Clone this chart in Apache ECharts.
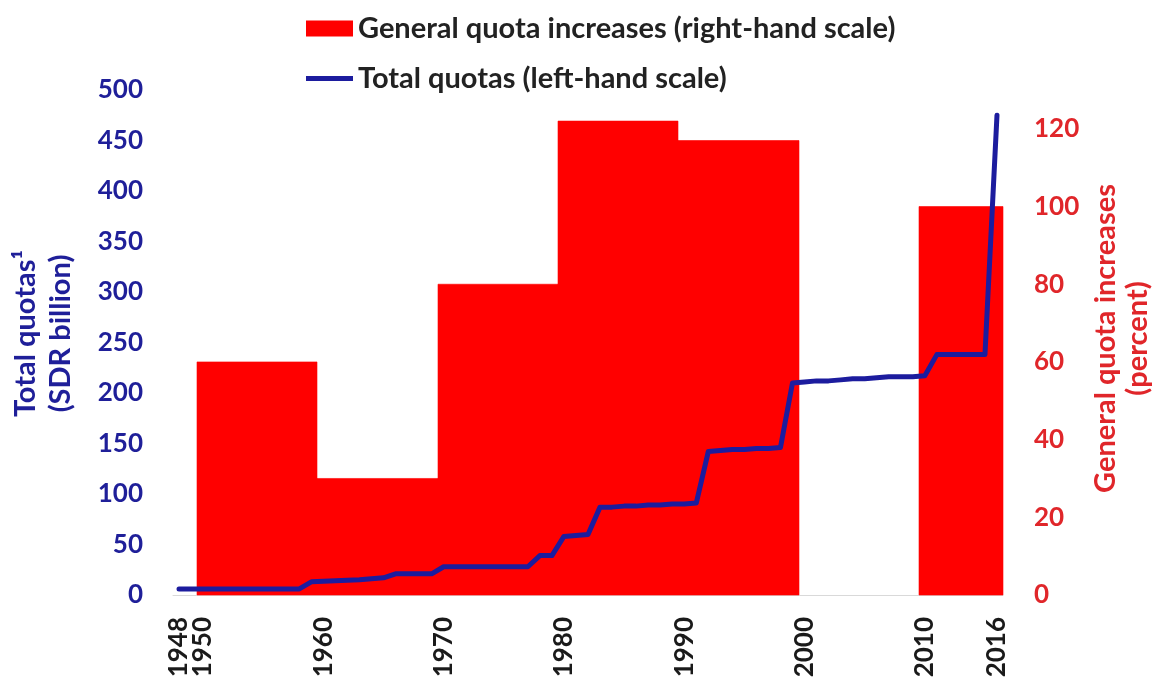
<!DOCTYPE html>
<html>
<head>
<meta charset="utf-8">
<script src="https://cdn.jsdelivr.net/npm/echarts@6/dist/echarts.min.js"></script>
<style>
html,body{margin:0;padding:0;background:#fff;}
#chart{width:1157px;height:681px;}
</style>
</head>
<body>
<div id="chart"></div>
<script>
// Year ticks shown on the x axis (first one drawn on its own axis so it is not dropped as overlapping)
const firstYearTick = [1948];
const yearTicks = [1950, 1960, 1970, 1980, 1990, 2000, 2010, 2016];

// General quota increases (percent): [first year, last year, increase]
const quotaIncreasePeriods = [
  [1950, 1959, 60],
  [1960, 1969, 30],
  [1970, 1979, 80],
  [1980, 1989, 122],
  [1990, 1999, 117],
  [2010, 2016, 100]
];

// Total quotas (SDR billion), annual
const quotaYears = [1948,1949,1950,1951,1952,1953,1954,1955,1956,1957,1958,1959,1960,1961,1962,1963,1964,1965,1966,1967,1968,1969,1970,1971,1972,1973,1974,1975,1976,1977,1978,1979,1980,1981,1982,1983,1984,1985,1986,1987,1988,1989,1990,1991,1992,1993,1994,1995,1996,1997,1998,1999,2000,2001,2002,2003,2004,2005,2006,2007,2008,2009,2010,2011,2012,2013,2014,2015,2016];
const totalQuotas = [6,6,6,6,6,6,6,6,6,6,6,13,13.5,14,14.5,15,16,17,21,21,21,21,28,28,28,28,28,28,28,28,39,39,58,59,60,87,87,88,88,89,89,90,90,91,142,143,144,144,145,145,146,210,211,212,212,213,214,214,215,216,216,216,217,238,238,238,238,238,475];

const leftTicks = [0,50,100,150,200,250,300,350,400,450,500];
const rightTicks = [0,20,40,60,80,100,120];

const FONT = 'Lato';
const BLUE = '#1f1f99';
const RED = '#e0262a';

const chart = echarts.init(document.getElementById('chart'), null, {renderer: 'canvas'});

const barName = 'General quota increases (right-hand scale)';
const lineName = 'Total quotas (left-hand scale)';

const xLabelStyle = {
  rotate: 90,
  margin: 22,
  fontFamily: FONT, fontWeight: 'bold', fontSize: 26, color: '#1a1a1a',
  formatter: v => String(v)
};

chart.setOption({
  animation: false,
  backgroundColor: '#ffffff',
  legend: {
    orient: 'vertical',
    left: 306,
    top: 14,
    padding: 0,
    itemWidth: 47,
    itemHeight: 16,
    itemGap: 21,
    symbolKeepAspect: true,
    textStyle: {fontFamily: FONT, fontWeight: 'bold', fontSize: 29, color: '#222'},
    data: [
      {name: barName, icon: 'rect'},
      {name: lineName, icon: 'path://M0,0H47V5H0Z'}
    ]
  },
  grid: {left: 173, right: 154, top: 90, bottom: 86, containLabel: false, outerBoundsMode: 'none'},
  xAxis: [
    {
      type: 'value',
      min: 1947.5,
      max: 2016.5,
      position: 'bottom',
      axisLine: {show: true, lineStyle: {color: '#d9d9d9', width: 1}},
      axisTick: {show: false},
      splitLine: {show: false},
      axisLabel: Object.assign({customValues: yearTicks, showMinLabel: true, showMaxLabel: true}, xLabelStyle)
    },
    {
      type: 'value',
      min: 1947.5,
      max: 2016.5,
      position: 'bottom',
      axisLine: {show: false},
      axisTick: {show: false},
      splitLine: {show: false},
      axisLabel: Object.assign({customValues: firstYearTick, showMinLabel: true, showMaxLabel: true}, xLabelStyle)
    }
  ],
  yAxis: [
    {
      type: 'value', min: 0, max: 500, interval: 50,
      position: 'left',
      axisLine: {show: false}, axisTick: {show: false}, splitLine: {show: false},
      axisLabel: {
        customValues: leftTicks,
        margin: 30, fontFamily: FONT, fontWeight: 'bold', fontSize: 26, color: BLUE
      },
      name: 'Total quotas\u00B9\n(SDR billion)',
      nameLocation: 'middle',
      nameGap: 95,
      nameTextStyle: {fontFamily: FONT, fontWeight: 'bold', fontSize: 29, color: BLUE, lineHeight: 35, align: 'center', padding: [0, 0, 0, 18]}
    },
    {
      type: 'value', min: 0, max: 130,
      position: 'right',
      axisLine: {show: false}, axisTick: {show: false}, splitLine: {show: false},
      axisLabel: {
        customValues: rightTicks,
        margin: 31, fontFamily: FONT, fontWeight: 'bold', fontSize: 26, color: RED
      },
      name: 'General quota increases\n(percent)',
      nameLocation: 'middle',
      nameGap: 87,
      nameTextStyle: {fontFamily: FONT, fontWeight: 'bold', fontSize: 29, color: RED, lineHeight: 32, align: 'center', padding: [0, 0, 0, 8]}
    }
  ],
  series: [
    {
      name: barName,
      type: 'custom',
      xAxisIndex: 0,
      yAxisIndex: 1,
      itemStyle: {color: '#ff0000'},
      encode: {x: [0, 1], y: 2},
      data: quotaIncreasePeriods,
      renderItem: function (params, api) {
        const p0 = api.coord([api.value(0) - 0.5, 0]);
        const p1 = api.coord([api.value(1) + 0.5, api.value(2)]);
        const x0 = Math.round(p0[0]);
        const x1 = Math.round(p1[0]);
        return {
          type: 'rect',
          shape: {x: x0, y: p1[1], width: x1 - x0, height: p0[1] - p1[1]},
          style: {fill: '#ff0000', stroke: '#ff0000', lineWidth: 0.6}
        };
      },
      z: 1
    },
    {
      name: lineName,
      type: 'line',
      xAxisIndex: 0,
      yAxisIndex: 0,
      symbol: 'none',
      lineStyle: {color: '#1c1c9e', width: 5, cap: 'round', join: 'round'},
      itemStyle: {color: '#1c1c9e'},
      data: quotaYears.map((y, i) => [y, totalQuotas[i]]),
      z: 3
    }
  ]
});
</script>
</body>
</html>
